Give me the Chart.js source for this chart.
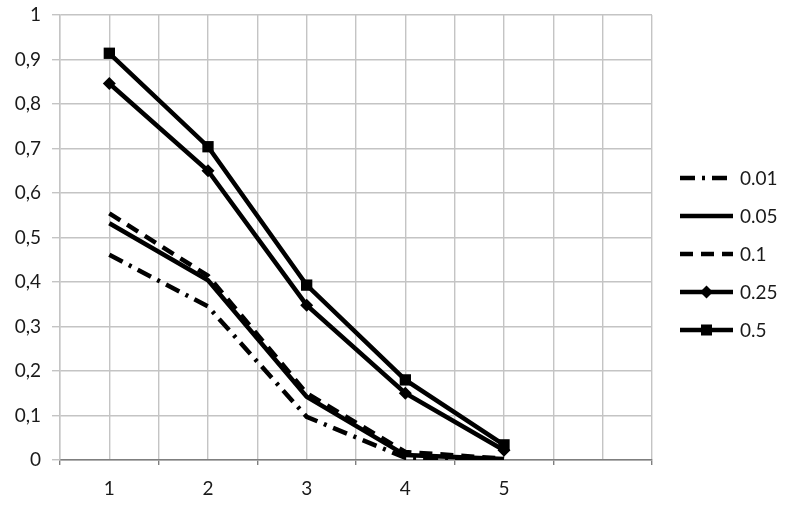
<!DOCTYPE html>
<html>
<head>
<meta charset="utf-8">
<script src="https://cdn.jsdelivr.net/npm/chart.js@4/dist/chart.umd.min.js"></script>
<style>
    html, body { margin: 0; padding: 0; background: #fff; }
    #wrap { width: 787px; height: 509px; }
</style>
</head>
<body>
<div id="wrap"><canvas id="chart" width="787" height="509"></canvas></div>
<script>
// valeurs
let xValues = [1, 2, 3, 4, 5];
let seriesNames = ['0.01', '0.05', '0.1', '0.25', '0.5'];
let s001 = [0.461, 0.345, 0.097, 0.005, 0.001];
let s005 = [0.532, 0.404, 0.142, 0.011, 0.002];
let s01 = [0.554, 0.414, 0.150, 0.018, 0.003];
let s025 = [0.846, 0.650, 0.348, 0.150, 0.022];
let s05 = [0.914, 0.704, 0.393, 0.180, 0.034];
let yTicks = [0, 0.1, 0.2, 0.3, 0.4, 0.5, 0.6, 0.7, 0.8, 0.9, 1];

let fontFamily = 'Lato, "Open Sans", sans-serif';

function toPoints(values) {
    return values.map((v, i) => ({x: xValues[i], y: v}));
}

function makeDataset(label, values, dash, pointStyle) {
    return {
        label: label,
        data: toPoints(values),
        borderColor: '#000',
        backgroundColor: '#000',
        borderWidth: 4.5,
        borderDash: dash,
        tension: 0,
        pointStyle: pointStyle || 'circle',
        pointRadius: pointStyle ? (pointStyle === 'rect' ? 8 : 6.5) : 0,
        pointBorderWidth: 0,
        pointHoverRadius: 0
    };
}

let datasets = [
    makeDataset(seriesNames[0], s001, [15, 7, 3, 7]),
    makeDataset(seriesNames[1], s005, []),
    makeDataset(seriesNames[2], s01, [13, 8]),
    makeDataset(seriesNames[3], s025, [], 'rectRot'),
    makeDataset(seriesNames[4], s05, [], 'rect')
];

// legende dessinee a la main (trait + marqueur)
let customLegend = {
    id: 'customLegend',
    afterDraw(chart) {
        let ctx = chart.ctx;
        let area = chart.chartArea;
        let x0 = area.right + 28;
        let x1 = x0 + 53;
        chart.data.datasets.forEach((ds, i) => {
            let y = 178 + i * 38;
            ctx.save();
            ctx.strokeStyle = ds.borderColor;
            ctx.lineWidth = ds.borderWidth;
            ctx.setLineDash(ds.borderDash);
            ctx.beginPath();
            ctx.moveTo(x0, y);
            ctx.lineTo(x1, y);
            ctx.stroke();
            ctx.setLineDash([]);
            let cx = (x0 + x1) / 2;
            ctx.fillStyle = '#000';
            if (ds.pointStyle === 'rect') {
                ctx.fillRect(cx - 5.5, y - 5.5, 11, 11);
            } else if (ds.pointStyle === 'rectRot') {
                let r = 6.5;
                ctx.beginPath();
                ctx.moveTo(cx, y - r);
                ctx.lineTo(cx + r, y);
                ctx.lineTo(cx, y + r);
                ctx.lineTo(cx - r, y);
                ctx.closePath();
                ctx.fill();
            }
            ctx.font = '19px ' + fontFamily;
            ctx.fillStyle = '#1a1a1a';
            ctx.textBaseline = 'middle';
            ctx.textAlign = 'left';
            ctx.fillText(ds.label, x1 + 7, y + 1);
            ctx.restore();
        });
    }
};

let config = {
    type: 'line',
    data: {datasets: datasets},
    options: {
        responsive: false,
        animation: false,
        events: [],
        layout: {padding: {top: 15, right: 135, left: 0, bottom: 0}},
        plugins: {
            legend: {display: false},
            tooltip: {enabled: false}
        },
        scales: {
            x: {
                type: 'linear',
                min: 0.5,
                max: 6.5,
                afterBuildTicks: (scale) => {
                    let t = [];
                    for (let v = 0.5; v <= 6.5001; v += 0.5) t.push({value: Math.round(v * 10) / 10});
                    scale.ticks = t;
                },
                afterFit: (scale) => { scale.height = 49; scale.paddingLeft = 0; scale.paddingRight = 0; },
                grid: {
                    color: '#c4c4c4',
                    lineWidth: 1.4,
                    tickLength: 5,
                    tickColor: (ctx) => (ctx.tick && Number.isInteger(ctx.tick.value)) ? 'rgba(0,0,0,0)' : '#7f7f7f'
                },
                border: {display: true, color: '#7f7f7f', width: 1.4},
                ticks: {
                    autoSkip: false,
                    maxRotation: 0,
                    padding: 12,
                    color: '#1a1a1a',
                    font: {family: fontFamily, size: 19},
                    callback: (v) => (Number.isInteger(v) && xValues.includes(v)) ? String(v) : ''
                }
            },
            y: {
                min: 0,
                max: 1,
                afterBuildTicks: (scale) => { scale.ticks = yTicks.map(v => ({value: v})); },
                afterFit: (scale) => { scale.width = 60; scale.paddingTop = 0; scale.paddingBottom = 0; },
                grid: {
                    color: '#c4c4c4',
                    lineWidth: 1.4,
                    tickLength: 8,
                    tickColor: '#c4c4c4'
                },
                border: {display: true, color: '#c4c4c4', width: 1.4},
                ticks: {
                    padding: 11,
                    color: '#1a1a1a',
                    font: {family: fontFamily, size: 19},
                    callback: (v) => String(Math.round(v * 10) / 10).replace('.', ',')
                }
            }
        }
    },
    plugins: [customLegend]
};

new Chart(document.getElementById('chart'), config);
</script>
</body>
</html>
